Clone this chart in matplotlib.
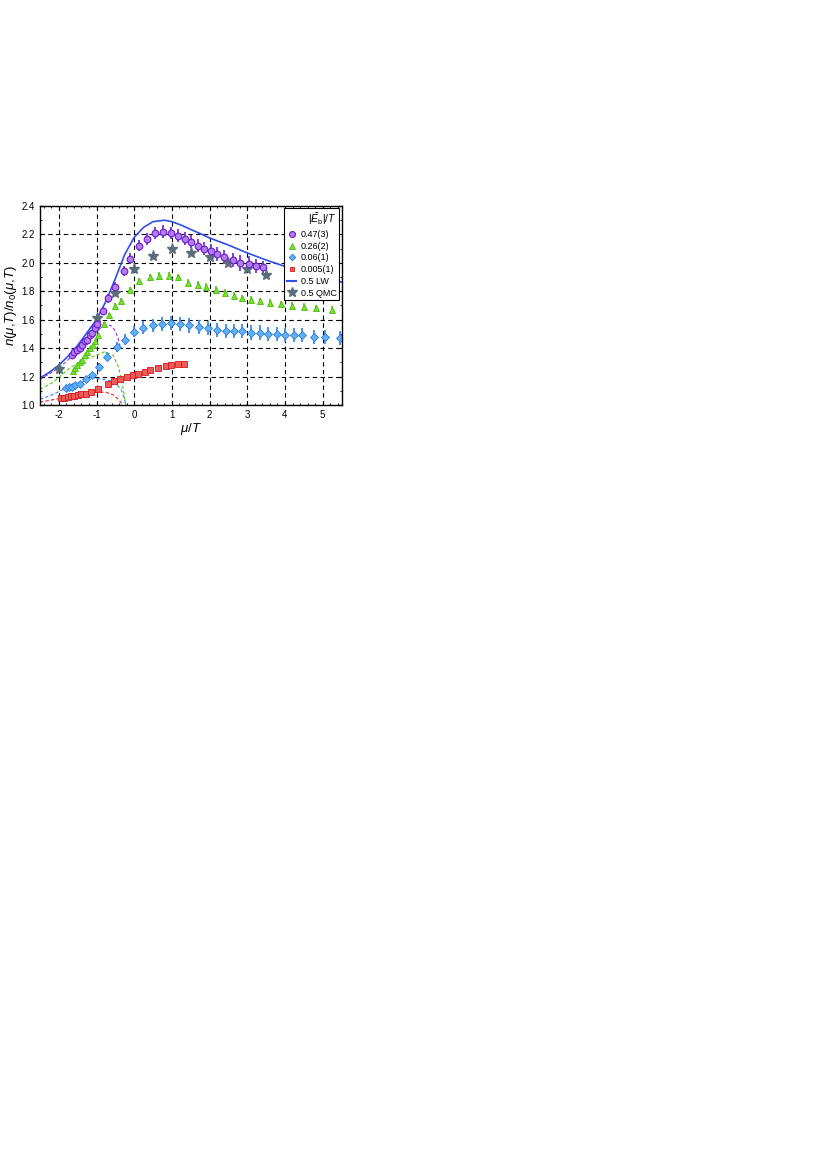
import matplotlib
matplotlib.use('Agg')
import matplotlib.pyplot as plt
import matplotlib.ticker as mtick
from matplotlib.lines import Line2D

plt.rcParams['font.family'] = ['Liberation Sans', 'DejaVu Sans']
plt.rcParams['mathtext.fontset'] = 'custom'
plt.rcParams['mathtext.rm'] = 'Liberation Sans'
plt.rcParams['mathtext.it'] = 'Liberation Sans:italic'
plt.rcParams['axes.unicode_minus'] = False

# 0.47(3) purple circles
x_p = [-1.66, -1.59, -1.52, -1.45, -1.38, -1.31, -1.24, -1.17, -1.11, -1.03, -0.99,
       -0.84, -0.69, -0.51, -0.28, -0.10, 0.13, 0.34, 0.55, 0.76, 0.97, 1.16, 1.34,
       1.51, 1.69, 1.86, 2.03, 2.20, 2.39, 2.61, 2.81, 3.04, 3.24, 3.43]
y_p = [1.35, 1.37, 1.39, 1.40, 1.42, 1.45, 1.46, 1.49, 1.51, 1.54, 1.57,
       1.66, 1.75, 1.83, 1.94, 2.03, 2.12, 2.17, 2.21, 2.22, 2.21, 2.19, 2.17,
       2.15, 2.12, 2.10, 2.08, 2.06, 2.04, 2.02, 2.00, 1.99, 1.98, 1.97]
e_p = [0.008, 0.008, 0.008, 0.009, 0.009, 0.01, 0.01, 0.011, 0.012, 0.013, 0.015,
       0.025, 0.03, 0.032, 0.035, 0.04, 0.04, 0.042, 0.045, 0.045, 0.045, 0.045, 0.045,
       0.045, 0.045, 0.048, 0.05, 0.05, 0.05, 0.05, 0.055, 0.055, 0.05, 0.045]

# 0.26(2) green triangles
x_g = [-1.62, -1.56, -1.51, -1.45, -1.38, -1.31, -1.24, -1.17, -1.10, -1.03, -0.96,
       -0.81, -0.66, -0.51, -0.36, -0.10, 0.12, 0.41, 0.66, 0.91, 1.17, 1.44, 1.69,
       1.91, 2.17, 2.40, 2.64, 2.86, 3.09, 3.33, 3.60, 3.90, 4.19, 4.50, 4.83, 5.25]
y_g = [1.24, 1.26, 1.28, 1.30, 1.32, 1.35, 1.37, 1.40, 1.42, 1.45, 1.49,
       1.57, 1.63, 1.70, 1.73, 1.81, 1.87, 1.90, 1.91, 1.91, 1.90, 1.86, 1.845,
       1.83, 1.81, 1.79, 1.77, 1.75, 1.74, 1.73, 1.72, 1.71, 1.70, 1.69, 1.68, 1.67]
e_g = [0.006, 0.006, 0.006, 0.007, 0.007, 0.008, 0.008, 0.009, 0.009, 0.01, 0.012,
       0.015, 0.018, 0.02, 0.02, 0.022, 0.025, 0.025, 0.025, 0.025, 0.025, 0.025, 0.025,
       0.025, 0.025, 0.025, 0.025, 0.025, 0.025, 0.025, 0.025, 0.025, 0.025, 0.025, 0.025, 0.03]

# 0.06(1) blue diamonds
x_b = [-1.80, -1.72, -1.65, -1.57, -1.44, -1.29, -1.11, -0.93, -0.71, -0.47, -0.24,
       0.0, 0.22, 0.50, 0.75, 0.97, 1.22, 1.46, 1.72, 1.95, 2.20, 2.43, 2.66, 2.87,
       3.11, 3.33, 3.55, 3.78, 4.01, 4.23, 4.46, 4.76, 5.07, 5.46]
y_b = [1.12, 1.13, 1.13, 1.14, 1.15, 1.18, 1.21, 1.27, 1.34, 1.41, 1.46,
       1.515, 1.545, 1.56, 1.57, 1.575, 1.57, 1.56, 1.55, 1.54, 1.53, 1.52, 1.52, 1.52,
       1.51, 1.51, 1.50, 1.50, 1.49, 1.49, 1.49, 1.48, 1.48, 1.47]
e_b = [0.01, 0.01, 0.012, 0.014, 0.016, 0.02, 0.022, 0.025, 0.03, 0.035, 0.038,
       0.04, 0.045, 0.048, 0.05, 0.05, 0.05, 0.05, 0.05, 0.05, 0.05, 0.05, 0.05, 0.05,
       0.05, 0.05, 0.05, 0.05, 0.05, 0.05, 0.05, 0.05, 0.05, 0.05]

# 0.005(1) red squares
x_r = [-1.95, -1.86, -1.77, -1.68, -1.59, -1.50, -1.40, -1.29, -1.15, -0.97, -0.69,
       -0.53, -0.38, -0.19, -0.03, 0.11, 0.29, 0.41, 0.62, 0.84, 0.98, 1.16, 1.31]
y_r = [1.047, 1.05, 1.056, 1.06, 1.065, 1.07, 1.075, 1.08, 1.09, 1.11, 1.145,
       1.17, 1.18, 1.20, 1.21, 1.22, 1.235, 1.245, 1.26, 1.275, 1.28, 1.285, 1.29]
e_r = [0.005] * 10 + [0.008] * 13

# 0.5 QMC stars
x_q = [-2.0, -1.0, -0.5, 0.0, 0.5, 1.0, 1.5, 2.0, 2.5, 3.0, 3.5]
y_q = [1.25, 1.61, 1.79, 1.96, 2.05, 2.10, 2.07, 2.04, 2.00, 1.96, 1.915]

# 0.5 LW solid line
x_lw = [-2.5, -2.25, -2.0, -1.75, -1.5, -1.25, -1.0, -0.75, -0.5, -0.25, 0.0, 0.25,
        0.5, 0.8, 1.0, 1.25, 1.5, 1.8, 2.0, 2.5, 3.0, 3.5, 4.0, 4.5, 5.0, 5.5]
y_lw = [1.19, 1.23, 1.28, 1.345, 1.42, 1.51, 1.60, 1.73, 1.89, 2.06, 2.18, 2.25,
        2.29, 2.30, 2.29, 2.265, 2.235, 2.20, 2.175, 2.125, 2.07, 2.02, 1.975, 1.935, 1.90, 1.865]

# dashed curves
x_pd = [-2.5, -2.0, -1.66, -1.3, -1.0, -0.85, -0.7, -0.6, -0.5, -0.43, -0.38]
y_pd = [1.18, 1.26, 1.34, 1.44, 1.52, 1.55, 1.565, 1.555, 1.52, 1.47, 1.42]
x_gd = [-2.5, -2.15, -1.93, -1.71, -1.4, -1.0, -0.78, -0.56, -0.42, -0.34, -0.27, -0.22]
y_gd = [1.11, 1.16, 1.21, 1.26, 1.31, 1.35, 1.375, 1.35, 1.27, 1.18, 1.08, 1.0]
x_bd = [-2.5, -2.19, -1.8, -1.4, -1.09, -0.78, -0.51, -0.34, -0.27, -0.22]
y_bd = [1.04, 1.07, 1.12, 1.16, 1.19, 1.18, 1.16, 1.105, 1.05, 1.0]
x_rd = [-2.5, -2.0, -1.5, -1.0, -0.75, -0.55, -0.42, -0.3]
y_rd = [1.02, 1.045, 1.07, 1.09, 1.09, 1.07, 1.04, 1.0]

fig = plt.figure(figsize=(8.3, 11.74), dpi=100)
ax = fig.add_axes([40 / 830, 1 - 405 / 1174, 301.5 / 830, 199 / 1174])

ax.grid(True, which='major', color='black', linestyle=(0, (4, 3)), linewidth=0.8)
ax.set_axisbelow(True)

ax.plot(x_pd, y_pd, '--', color='#8a3be0', lw=0.8, dashes=(3, 2))
ax.plot(x_gd, y_gd, '--', color='#55cc11', lw=0.8, dashes=(3, 2))
ax.plot(x_bd, y_bd, '--', color='#3388ee', lw=0.8, dashes=(3, 2))
ax.plot(x_rd, y_rd, '--', color='#ee2222', lw=0.8, dashes=(3, 2))

ax.plot(x_lw, y_lw, '-', color='#2f4fe8', lw=1.2)

ax.errorbar(x_p, y_p, yerr=e_p, fmt='o', ms=4.8, mfc='#b27cee', mec='#6a1ec8',
            mew=0.8, ecolor='#7a30dc', elinewidth=1.3, capsize=0)
ax.errorbar(x_g, y_g, yerr=e_g, fmt='^', ms=5.0, mfc='#77e030', mec='#4cbb10',
            mew=0.6, ecolor='#66d020', elinewidth=1.3, capsize=0)
ax.errorbar(x_b, y_b, yerr=e_b, fmt='D', ms=3.8, mfc='#62b0f2', mec='#2a7ee0',
            mew=0.6, ecolor='#3a8ee8', elinewidth=1.3, capsize=0)
ax.errorbar(x_r, y_r, yerr=e_r, fmt='s', ms=4.0, mfc='#f25a5a', mec='#d01818',
            mew=0.6, ecolor='#e02020', elinewidth=1.0, capsize=0)
ax.plot(x_q, y_q, '*', ms=8, color='#5c6c78', mec='#5c6c78')

ax.set_xlim(-2.5, 5.5)
ax.set_ylim(1.0, 2.4)
ax.xaxis.set_major_locator(mtick.MultipleLocator(1))
ax.xaxis.set_minor_locator(mtick.MultipleLocator(0.2))
ax.yaxis.set_major_locator(mtick.MultipleLocator(0.2))
ax.yaxis.set_minor_locator(mtick.MultipleLocator(0.1))
ax.yaxis.set_major_formatter(mtick.FormatStrFormatter('%.1f'))
ax.tick_params(which='both', direction='in', top=True, right=True, labelsize=7)
ax.tick_params(which='major', length=3, width=0.8)
ax.tick_params(which='minor', length=1.5, width=0.6)
for s in ax.spines.values():
    s.set_linewidth(1.0)

ax.set_xlabel(r'$\mu/T$', fontsize=9.5, labelpad=1)
ax.set_ylabel(r'$n(\mu{,}T)/n_0(\mu{,}T)$', fontsize=9.5, labelpad=2)

handles = [
    Line2D([], [], marker='o', ls='none', ms=4.3, mfc='#b27cee', mec='#6a1ec8', mew=0.8),
    Line2D([], [], marker='^', ls='none', ms=4.5, mfc='#77e030', mec='#4cbb10', mew=0.6),
    Line2D([], [], marker='D', ls='none', ms=3.4, mfc='#62b0f2', mec='#2a7ee0', mew=0.6),
    Line2D([], [], marker='s', ls='none', ms=3.4, mfc='#f25a5a', mec='#d01818', mew=0.6),
    Line2D([], [], ls='-', color='#2f4fe8', lw=1.5),
    Line2D([], [], marker='*', ls='none', ms=7.5, color='#5c6c78'),
]
labels = ['0.47(3)', '0.26(2)', '0.06(1)', '0.005(1)', '0.5 LW', '0.5 QMC']
leg = ax.legend(handles, labels, loc='upper right', fontsize=6.5,
                title=r'$|\widetilde{E}_\mathrm{b}|/T$', title_fontsize=7.5,
                fancybox=False, framealpha=1, edgecolor='black',
                handlelength=1.0, handletextpad=0.5, labelspacing=0.3,
                borderpad=0.3, borderaxespad=0.25)
leg.get_frame().set_linewidth(0.8)
leg._legend_box.align = 'right'

fig.savefig('out.png', dpi=100)
